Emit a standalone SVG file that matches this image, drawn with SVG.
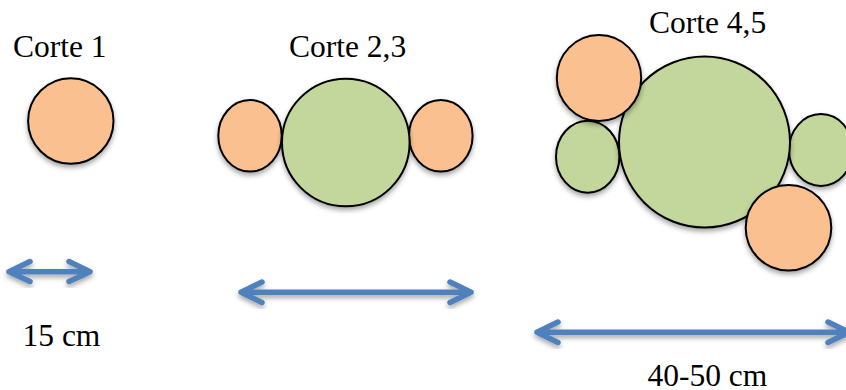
<svg xmlns="http://www.w3.org/2000/svg" width="846" height="390" viewBox="0 0 846 390">
  <defs>
    <filter id="shadow" x="-20%" y="-20%" width="140%" height="150%">
      <feDropShadow dx="0" dy="3" stdDeviation="2.5" flood-color="#000" flood-opacity="0.35"/>
    </filter>
    <style>
      .orange { fill: #FAC090; stroke: #000; stroke-width: 2; filter: url(#shadow); }
      .green { fill: #C3D69B; stroke: #000; stroke-width: 2; filter: url(#shadow); }
      .label { font-family: "Liberation Serif", "Times New Roman", serif; font-size: 31.5px; fill: #000; }
      .arrow { fill: none; stroke: #4F81BD; stroke-width: 5.5; stroke-linecap: round; stroke-linejoin: round; filter: url(#shadow); }
    </style>
  </defs>
  <rect width="846" height="390" fill="#fff"/>

  <!-- Cut 1 -->
  <g id="corte1">
    <text class="label" x="13" y="57">Corte 1</text>
    <circle class="orange" cx="70.8" cy="121" r="42.7"/>
  </g>

  <!-- Cuts 2 and 3 -->
  <g id="corte23">
    <text class="label" x="289" y="57">Corte 2,3</text>
    <ellipse class="orange" cx="250" cy="135.8" rx="31.7" ry="35.8"/>
    <ellipse class="orange" cx="440.8" cy="135.8" rx="31.8" ry="35.8"/>
    <circle class="green" cx="345.8" cy="142.5" r="63.8"/>
  </g>

  <!-- Cuts 4 and 5 -->
  <g id="corte45">
    <text class="label" x="649" y="33">Corte 4,5</text>
    <ellipse class="green" cx="587.7" cy="156.7" rx="31.7" ry="36"/>
    <ellipse class="green" cx="821" cy="150" rx="32" ry="36"/>
    <circle class="green" cx="704.5" cy="142" r="85.5"/>
    <ellipse class="orange" cx="599" cy="78" rx="42.2" ry="43"/>
    <circle class="orange" cx="788.5" cy="227.8" r="42.8"/>
  </g>

  <!-- Width arrows -->
  <g id="connectors">
    <path class="arrow" d="M9 271.7 H90 M30 261.5 L9 271.7 L30 281.5 M69 261.5 L90 271.7 L69 281.5"/>
    <path class="arrow" d="M241 292.3 H471 M262 282 L241 292.3 L262 302.5 M450 282 L471 292.3 L450 302.5"/>
    <path class="arrow" d="M537 332.3 H849 M558 322 L537 332.3 L558 342.5 M828 322 L849 332.3 L828 342.5"/>
  </g>

  <!-- Width labels -->
  <g id="medidas">
    <text class="label" x="22.5" y="346">15 cm</text>
    <text class="label" x="647.5" y="385.5">40-50 cm</text>
  </g>
</svg>
